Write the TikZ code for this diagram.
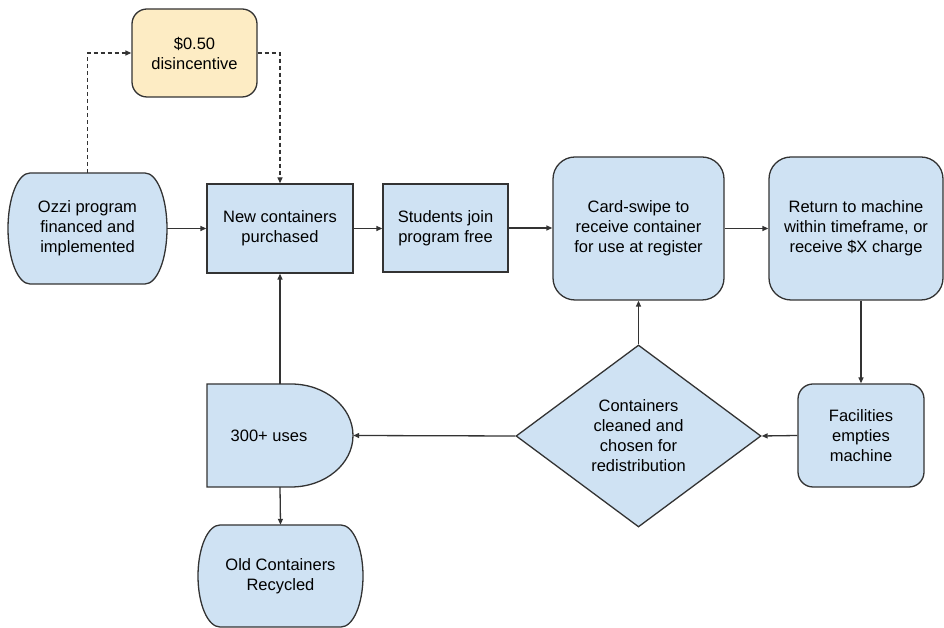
\documentclass[tikz,border=0pt]{standalone}
\usepackage{fontspec}
\setmainfont{Liberation Sans}
\usetikzlibrary{shapes.geometric,arrows.meta,calc}
\definecolor{boxblue}{HTML}{CFE2F3}
\definecolor{boxyellow}{HTML}{FDECC4}
\definecolor{linegray}{HTML}{333333}
\tikzset{
  base/.style={draw=linegray, line width=1.3pt, fill=boxblue, align=center, inner sep=0pt,
     font=\fontsize{16.5}{20}\selectfont},
  sqbox/.style={base, rectangle},
  rbox/.style={base, rectangle, rounded corners=#1},
  hidden/.style={rectangle, inner sep=0pt, align=center, font=\fontsize{16.5}{20}\selectfont},
  conn/.style={draw=linegray, line width=1.3pt, -{Triangle[length=6pt,width=5pt]}},
  dconn/.style={conn, dash pattern=on 4pt off 3pt},
  shapeline/.style={draw=linegray, line width=1.3pt, fill=boxblue},
}
\begin{document}
\begin{tikzpicture}[x=1pt,y=1pt]
\useasboundingbox (0,0) rectangle (944,628);
% custom shape outlines
\draw[shapeline] (30,455) -- (145,455) arc[start angle=90,end angle=-90,x radius=22,y radius=55.5]
   -- (30,344) arc[start angle=270,end angle=90,x radius=22,y radius=55.5] -- cycle;
\draw[shapeline] (220,103) -- (341,103) arc[start angle=90,end angle=-90,x radius=22,y radius=51]
   -- (220,1) arc[start angle=270,end angle=90,x radius=22,y radius=51] -- cycle;
\draw[shapeline] (207,244) -- (291,244) arc[start angle=90,end angle=-90,x radius=62,y radius=51.5]
   -- (207,141) -- cycle;
% nodes
\node[hidden, minimum width=159pt, minimum height=111pt] (ozzi) at (87.5,399.5) {Ozzi program\\financed and\\implemented};
\node[rbox=15pt, fill=boxyellow, minimum width=125pt, minimum height=88pt] (disinc) at (194.5,575) {\$0.50\\disincentive};
\node[sqbox, minimum width=146pt, minimum height=89pt] (new) at (280,399.5) {New containers\\purchased};
\node[sqbox, minimum width=125pt, minimum height=88pt] (students) at (445.5,400) {Students join\\program free};
\node[rbox=22pt, minimum width=171pt, minimum height=143pt] (card) at (638.5,399.5) {Card-swipe to\\receive container\\for use at register};
\node[rbox=22pt, minimum width=174pt, minimum height=143pt] (ret) at (856,399.5) {Return to machine\\within timeframe, or\\receive \$X charge};
\node[rbox=15pt, minimum width=126pt, minimum height=103pt] (fac) at (861,192.5) {Facilities\\empties\\machine};
\node[base, diamond, aspect=1.346, minimum width=245pt, minimum height=182pt] (dia) at (638.5,192) {Containers\\cleaned and\\chosen for\\redistribution};
\node[hidden, minimum width=146pt, minimum height=103pt] (uses) at (280,192.5) {};
\node[hidden] (usestext) at (269,192.5) {300+ uses};
\node[hidden, minimum width=165pt, minimum height=102pt] (old) at (280.5,52) {Old Containers\\Recycled};
% connectors
\draw[dconn] (ozzi.north) |- (disinc.west);
\draw[dconn] (disinc.east) -| (new.north);
\draw[conn] (ozzi.east) -- (new.west);
\draw[conn] (new.east) -- (new.east -| students.west);
\draw[conn] (students.east) -- (students.east -| card.west);
\draw[conn] (card.east) -- (ret.west);
\draw[conn] (fac.north |- ret.south) -- (fac.north);
\draw[conn] (fac.west) -- (dia.east);
\draw[conn] (dia.west) -- (uses.east);
\draw[conn] (dia.north) -- (card.south);
\draw[conn] (uses.north) -- (new.south);
\draw[conn] (uses.south) -- (old.north);
\end{tikzpicture}
\end{document}
